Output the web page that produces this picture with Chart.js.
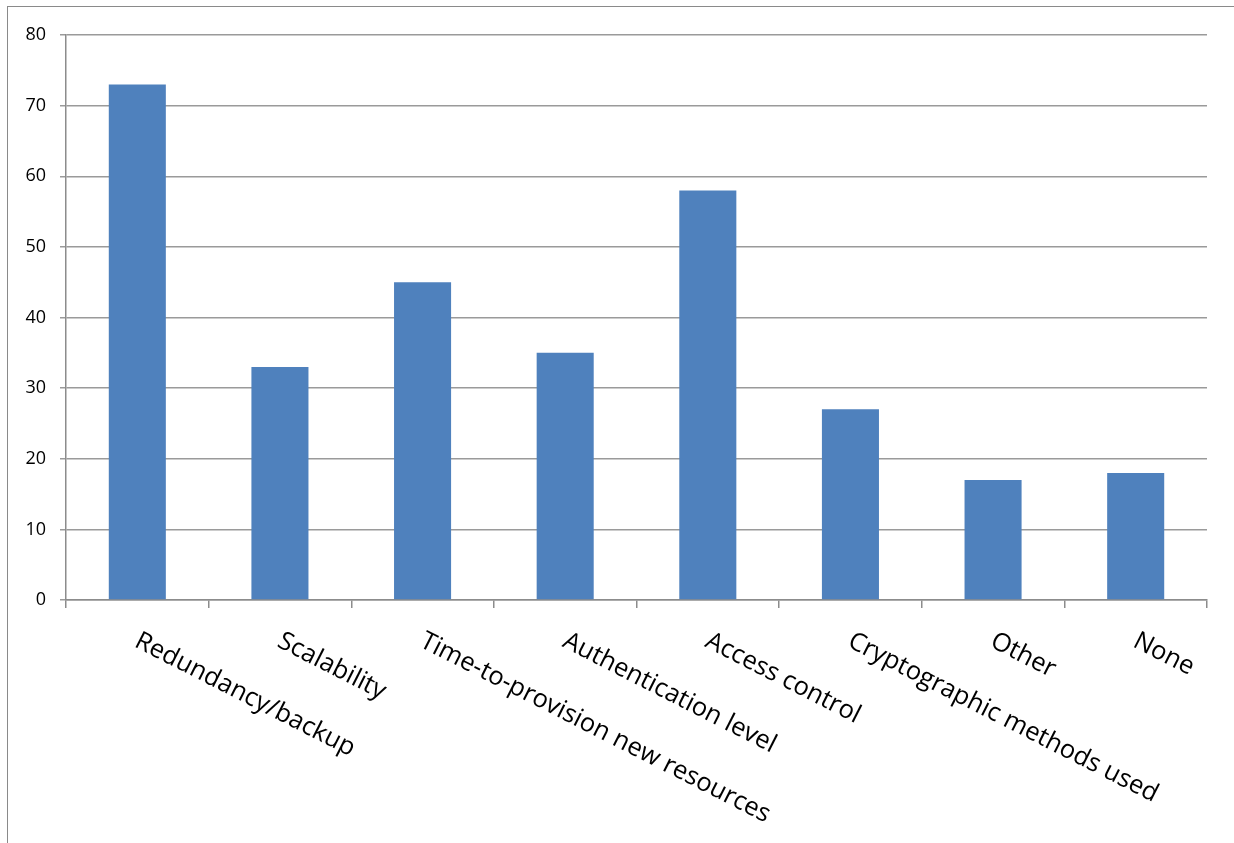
<!DOCTYPE html>
<html>
<head>
<meta charset="utf-8">
<script src="https://cdn.jsdelivr.net/npm/chart.js@4.4.1/dist/chart.umd.min.js"></script>
<style>
  html, body { margin: 0; padding: 0; background: #fff; }
  #wrap { position: relative; width: 1234px; height: 843px; }
  #frame { position: absolute; left: 7px; top: 6px; right: -2px; bottom: -2px;
           border-left: 1.5px solid #8a8a8a; border-top: 1.5px solid #8a8a8a; pointer-events: none; }
  canvas { position: absolute; left: 0; top: 0; }
</style>
</head>
<body>
<div id="wrap">
  <canvas id="c" width="1234" height="843"></canvas>
  <div id="frame"></div>
</div>
<script>
const categories = [
  "Redundancy/backup",
  "Scalability",
  "Time-to-provision new resources",
  "Authentication level",
  "Access control",
  "Cryptographic methods used",
  "Other",
  "None"
];
const values = [73, 33, 45, 35, 58, 27, 17, 18];
const yTicks = [0, 10, 20, 30, 40, 50, 60, 70, 80];

const LABEL_ANGLE = 27 * Math.PI / 180;

const rotatedLabels = {
  id: 'rotatedLabels',
  afterDraw(chart) {
    const ctx = chart.ctx;
    const xs = chart.scales.x;
    ctx.save();
    ctx.font = '25.5px "Open Sans"';
    ctx.fillStyle = '#000';
    ctx.textAlign = 'left';
    ctx.textBaseline = 'alphabetic';
    categories.forEach((lab, i) => {
      const px = xs.getPixelForValue(i);
      ctx.save();
      ctx.translate(px - 4, 646);
      ctx.rotate(LABEL_ANGLE);
      ctx.fillText(lab, 0, 0);
      ctx.restore();
    });
    ctx.restore();
  }
};

new Chart(document.getElementById('c'), {
  type: 'bar',
  data: {
    labels: categories,
    datasets: [{
      data: values,
      backgroundColor: '#4F81BD',
      borderWidth: 0,
      categoryPercentage: 0.4,
      barPercentage: 1.0
    }]
  },
  options: {
    responsive: false,
    animation: false,
    devicePixelRatio: 1,
    layout: { padding: { top: 35, right: 27, left: 0, bottom: 0 } },
    plugins: { legend: { display: false }, tooltip: { enabled: false } },
    scales: {
      x: {
        offset: true,
        grid: { display: true, offset: true, drawOnChartArea: false, drawTicks: true,
                tickLength: 8, color: '#8c8c8c', lineWidth: 1.5 },
        border: { display: true, color: '#8c8c8c', width: 1.5 },
        ticks: { display: false, autoSkip: false },
        afterFit(scale) { scale.height = 243; }
      },
      y: {
        min: 0, max: 80,
        afterBuildTicks(scale) { scale.ticks = yTicks.map(v => ({ value: v })); },
        grid: { color: '#9a9a9a', lineWidth: 1.5, tickLength: 6, drawTicks: true },
        border: { display: true, color: '#8c8c8c', width: 1.5 },
        ticks: { font: { family: 'Open Sans', size: 18 }, color: '#000', padding: 14 },
        afterFit(scale) { scale.width = 66; }
      }
    }
  },
  plugins: [rotatedLabels]
});
</script>
</body>
</html>
